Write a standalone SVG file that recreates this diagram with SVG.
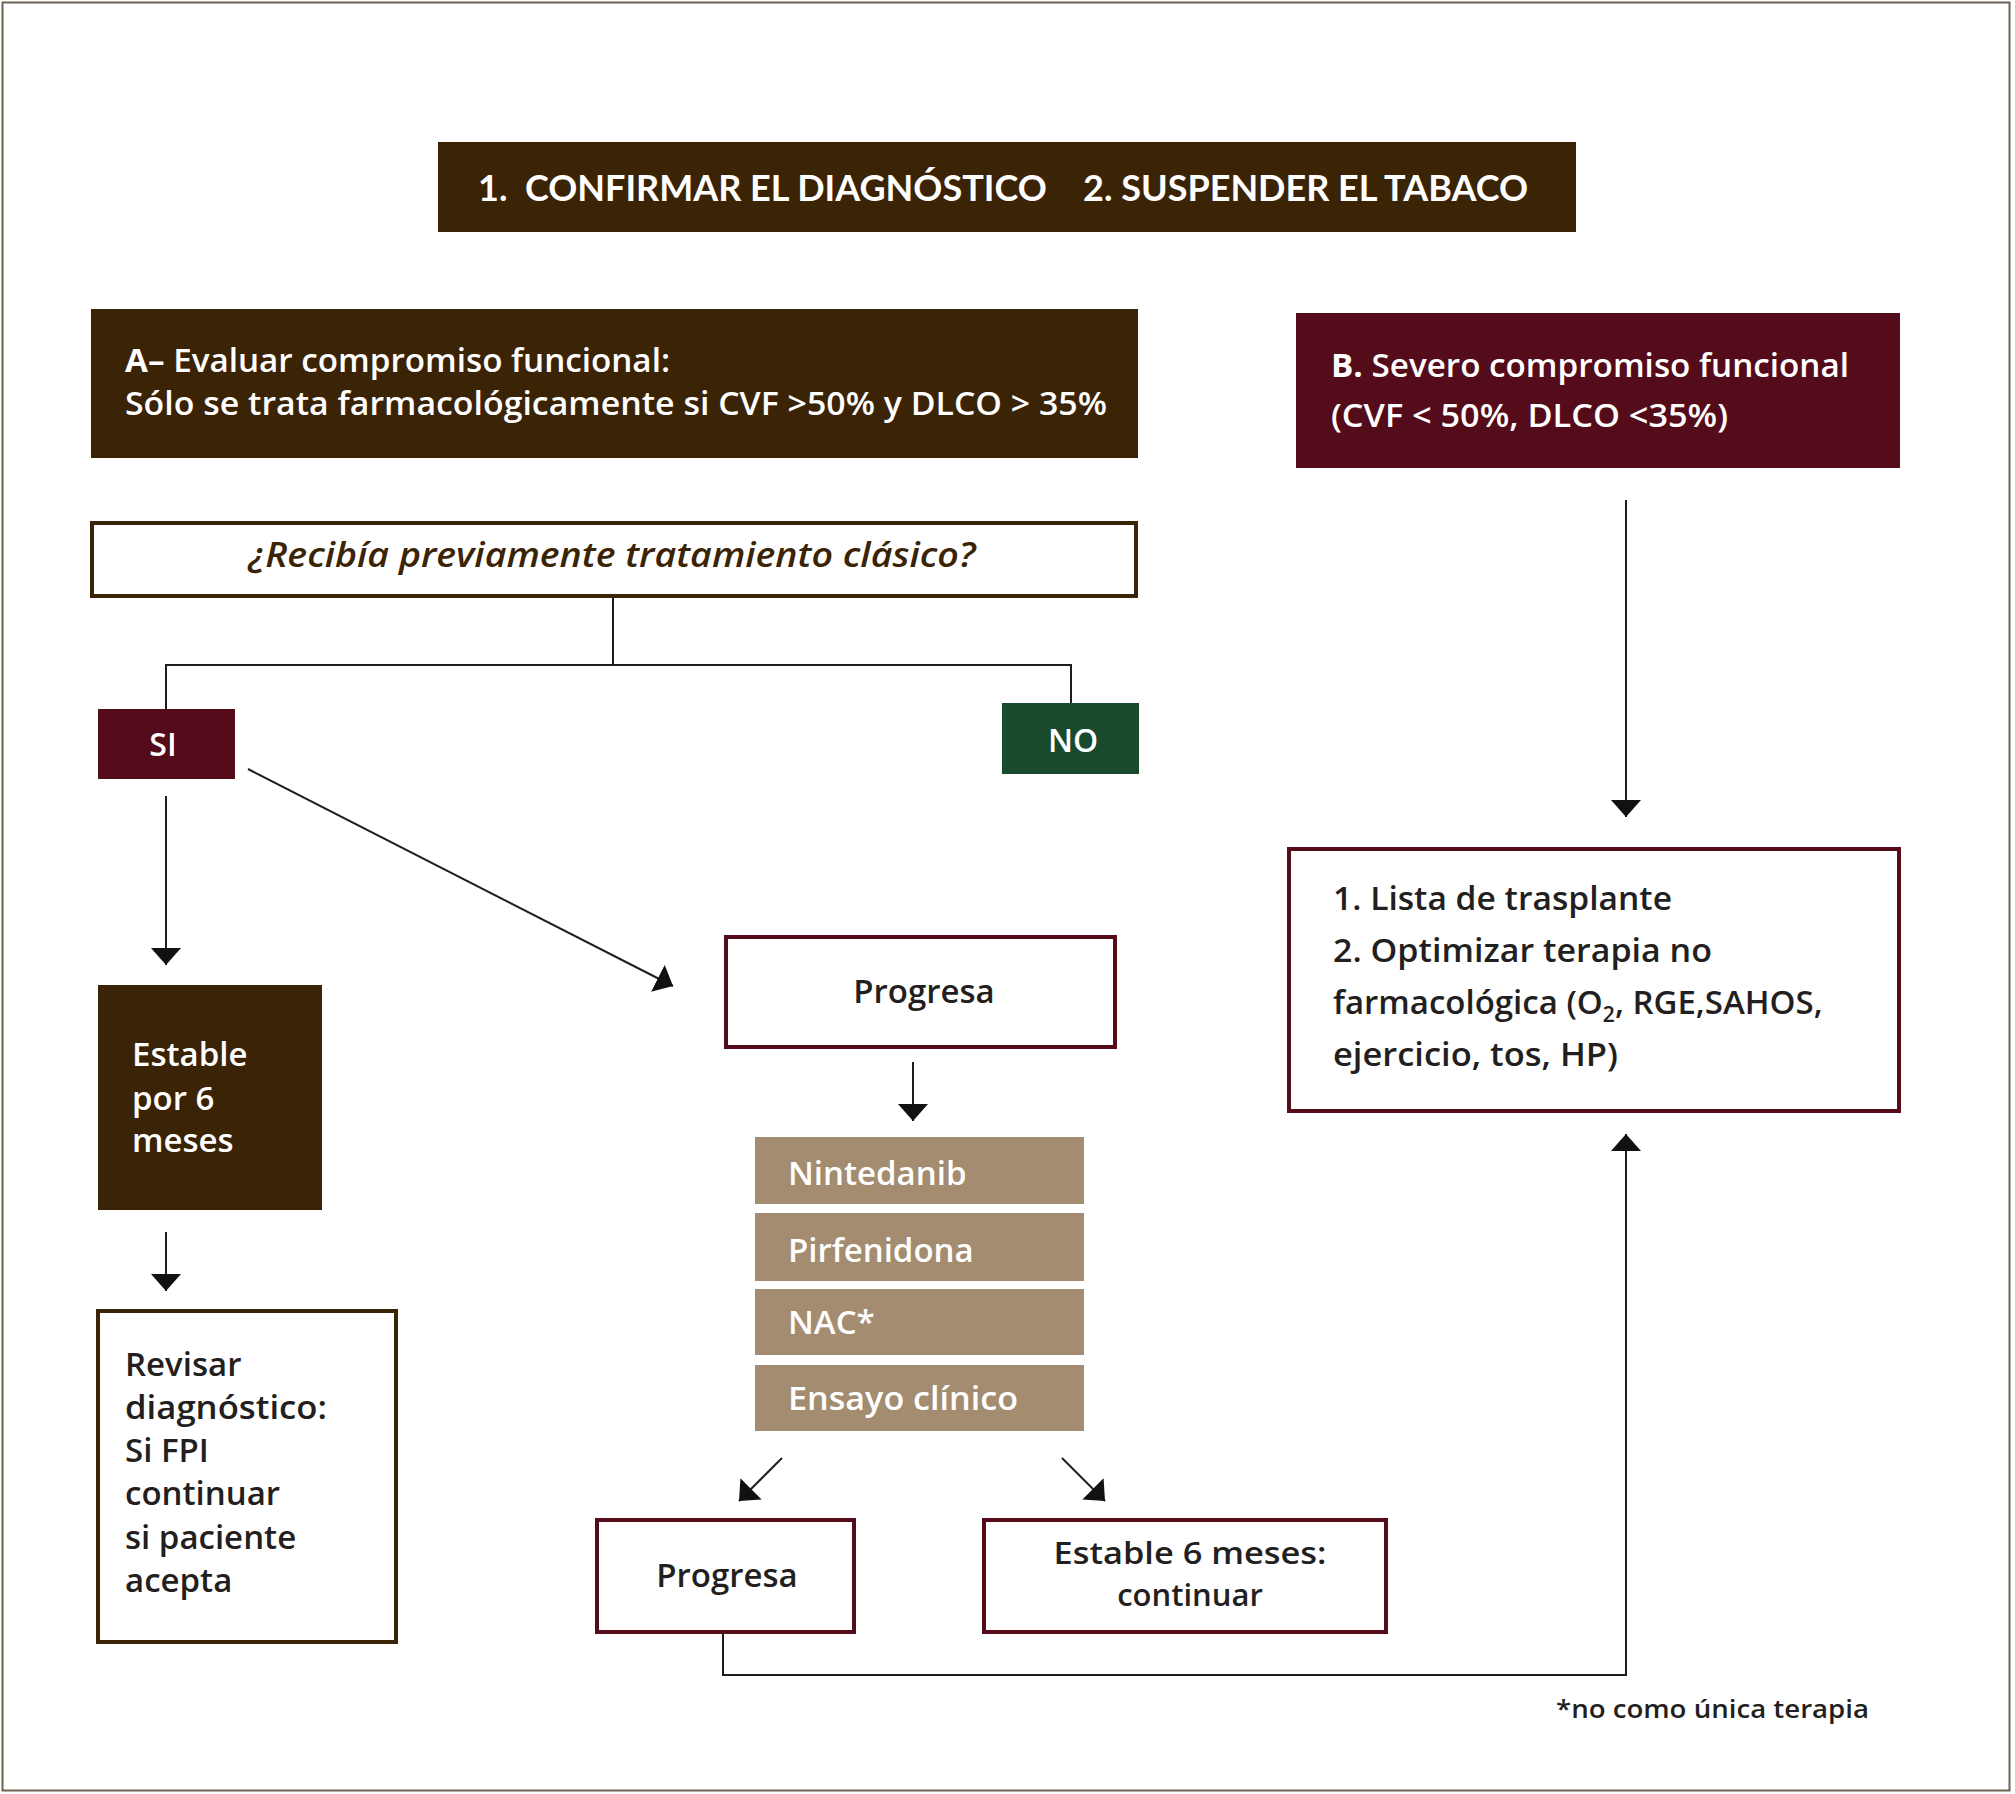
<svg xmlns="http://www.w3.org/2000/svg" width="2015" height="1794" viewBox="0 0 2015 1794">
<defs>
<style>
text{font-family:"Open Sans","Noto Sans","Liberation Sans",sans-serif;font-weight:600;}
.hd{font-family:Lato,"Open Sans","Liberation Sans",sans-serif;font-weight:700;}
.w{fill:#ffffff;}
.d{fill:#231f20;}
.brown{fill:#3b2306;}
.maroon{fill:#550c1a;}
.green{fill:#1a4a2e;}
.tan{fill:#a38c70;}
.obox{fill:#ffffff;stroke:#550c1a;stroke-width:4;}
.bbox{fill:#ffffff;stroke:#3b2306;stroke-width:4;}
.ln{fill:none;stroke:#1e1e1e;stroke-width:2;}
.arr{fill:none;stroke:#1e1e1e;stroke-width:2;marker-end:url(#ah);}
</style>
<marker id="ah" markerUnits="userSpaceOnUse" viewBox="0 -15 17 30" refX="17" refY="0" markerWidth="17" markerHeight="30" orient="auto">
<path d="M0,-15 L17,0 L0,15 z" fill="#111111"/>
</marker>
</defs>
<rect x="0" y="0" width="2015" height="1794" fill="#ffffff"/>
<rect x="2.5" y="2.5" width="2007" height="1788" fill="none" stroke="#6e6250" stroke-width="2"/>

<g id="top">
<rect class="brown" x="438" y="142" width="1138" height="90"/>
<text class="w hd" x="478" y="201" font-size="36" xml:space="preserve">1.  CONFIRMAR EL DIAGNÓSTICO</text>
<text class="w hd" x="1083" y="201" font-size="36">2. SUSPENDER EL TABACO</text>
</g>

<g id="boxA">
<rect class="brown" x="91" y="309" width="1047" height="149"/>
<text class="w" x="125" y="372" font-size="33" textLength="545" lengthAdjust="spacingAndGlyphs"><tspan font-weight="700">A–</tspan> Evaluar compromiso funcional:</text>
<text class="w" x="125" y="415" font-size="33" textLength="982" lengthAdjust="spacingAndGlyphs">Sólo se trata farmacológicamente si CVF &gt;50% y DLCO &gt; 35%</text>
</g>

<g id="boxB">
<rect class="maroon" x="1296" y="313" width="604" height="155"/>
<text class="w" x="1331" y="377" font-size="33" textLength="518" lengthAdjust="spacingAndGlyphs"><tspan font-weight="700">B.</tspan> Severo compromiso funcional</text>
<text class="w" x="1331" y="427" font-size="33" textLength="397" lengthAdjust="spacingAndGlyphs">(CVF &lt; 50%, DLCO &lt;35%)</text>
</g>

<g id="question">
<rect class="bbox" x="92" y="523" width="1044" height="73"/>
<text x="612" y="567" font-size="34" font-weight="700" font-style="italic" fill="#3b2306" text-anchor="middle" textLength="727" lengthAdjust="spacingAndGlyphs">¿Recibía previamente tratamiento clásico?</text>
</g>

<g id="si">
<rect class="maroon" x="98" y="709" width="137" height="70"/>
<text class="w" x="163" y="756" font-size="32" font-weight="700" text-anchor="middle">SI</text>
</g>

<g id="no">
<rect class="green" x="1002" y="703" width="137" height="71"/>
<text class="w" x="1073" y="752" font-size="32" font-weight="700" text-anchor="middle">NO</text>
</g>

<g id="estable">
<rect class="brown" x="98" y="985" width="224" height="225"/>
<text class="w" x="132" y="1066" font-size="33">Estable</text>
<text class="w" x="132" y="1110" font-size="33">por 6</text>
<text class="w" x="132" y="1152" font-size="33">meses</text>
</g>

<g id="revisar">
<rect class="bbox" x="98" y="1311" width="298" height="331"/>
<text class="d" x="125" y="1376" font-size="33">Revisar</text>
<text class="d" x="125" y="1419" font-size="33" textLength="202" lengthAdjust="spacingAndGlyphs">diagnóstico:</text>
<text class="d" x="125" y="1462" font-size="33">Si FPI</text>
<text class="d" x="125" y="1505" font-size="33">continuar</text>
<text class="d" x="125" y="1549" font-size="33">si paciente</text>
<text class="d" x="125" y="1592" font-size="33">acepta</text>
</g>

<g id="progresa1">
<rect class="obox" x="726" y="937" width="389" height="110"/>
<text class="d" x="924" y="1003" font-size="33" text-anchor="middle">Progresa</text>
</g>

<g id="nintedanib">
<rect class="tan" x="755" y="1137" width="329" height="67"/>
<text class="w" x="788" y="1185" font-size="33">Nintedanib</text>
</g>
<g id="pirfenidona">
<rect class="tan" x="755" y="1213" width="329" height="68"/>
<text class="w" x="788" y="1262" font-size="33">Pirfenidona</text>
</g>
<g id="nac">
<rect class="tan" x="755" y="1289" width="329" height="66"/>
<text class="w" x="788" y="1334" font-size="33" font-weight="700">NAC*</text>
</g>
<g id="ensayo">
<rect class="tan" x="755" y="1365" width="329" height="66"/>
<text class="w" x="788" y="1410" font-size="33" textLength="230" lengthAdjust="spacingAndGlyphs">Ensayo clínico</text>
</g>

<g id="progresa2">
<rect class="obox" x="597" y="1520" width="257" height="112"/>
<text class="d" x="727" y="1587" font-size="33" text-anchor="middle">Progresa</text>
</g>

<g id="estable6">
<rect class="obox" x="984" y="1520" width="402" height="112"/>
<text class="d" x="1190" y="1564" font-size="31" text-anchor="middle" textLength="273" lengthAdjust="spacingAndGlyphs">Estable 6 meses:</text>
<text class="d" x="1190" y="1606" font-size="31" text-anchor="middle">continuar</text>
</g>

<g id="lista">
<rect class="obox" x="1289" y="849" width="610" height="262"/>
<text class="d" x="1333" y="910" font-size="33" textLength="339" lengthAdjust="spacingAndGlyphs">1. Lista de trasplante</text>
<text class="d" x="1333" y="962" font-size="33" textLength="379" lengthAdjust="spacingAndGlyphs">2. Optimizar terapia no</text>
<text class="d" x="1333" y="1014" font-size="33">farmacológica (O<tspan font-size="21" dy="8">2</tspan><tspan dy="-8">, RGE,SAHOS,</tspan></text>
<text class="d" x="1333" y="1066" font-size="33" textLength="285" lengthAdjust="spacingAndGlyphs">ejercicio, tos, HP)</text>
</g>

<g id="footnote">
<text x="1556" y="1718" font-size="26" font-weight="300" fill="#231f20" textLength="313" lengthAdjust="spacingAndGlyphs">*no como única terapia</text>
</g>

<g id="connectors">
<polyline class="ln" points="613,597 613,665"/>
<polyline class="ln" points="166,709 166,665 1071,665 1071,703"/>
<line class="arr" x1="166" y1="796" x2="166" y2="965"/>
<line class="arr" x1="248" y1="769" x2="673" y2="986"/>
<line class="arr" x1="166" y1="1232" x2="166" y2="1291"/>
<line class="arr" x1="913" y1="1062" x2="913" y2="1121"/>
<line class="arr" x1="782" y1="1458" x2="739" y2="1501"/>
<line class="arr" x1="1062" y1="1458" x2="1105" y2="1501"/>
<line class="arr" x1="1626" y1="500" x2="1626" y2="817"/>
<polyline class="arr" points="723,1633 723,1675 1626,1675 1626,1134"/>
</g>
</svg>
